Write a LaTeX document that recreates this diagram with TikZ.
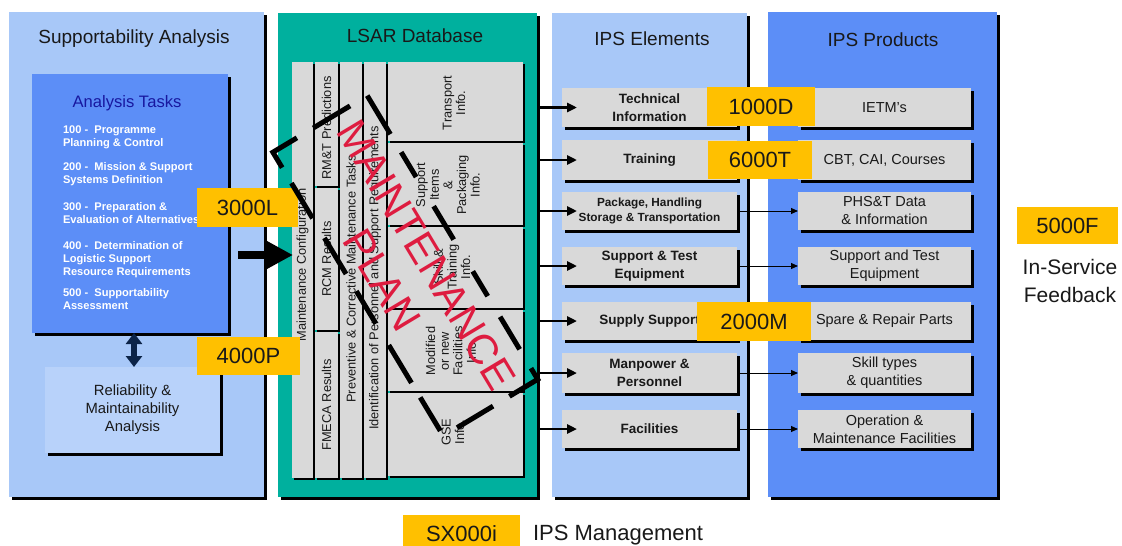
\documentclass[tikz,border=0pt]{standalone}
\usepackage{fontspec}
\setmainfont{Liberation Sans}
\usetikzlibrary{arrows.meta,shadows}
\newcommand{\myfs}[2]{\fontsize{#1}{#2}\selectfont}
\definecolor{panelblue}{RGB}{168,200,248}
\definecolor{midblue}{RGB}{92,142,247}
\definecolor{rmblue}{RGB}{184,210,250}
\definecolor{tealpanel}{RGB}{0,176,158}
\definecolor{cellgrey}{RGB}{217,217,217}
\definecolor{tagyellow}{RGB}{255,192,0}
\definecolor{planred}{RGB}{222,28,64}
\definecolor{taskblue}{RGB}{24,24,160}
\definecolor{navyarrow}{RGB}{12,36,72}
\definecolor{txt}{RGB}{25,25,25}
\begin{document}
\begin{tikzpicture}[x=1pt,y=-1pt,
  every node/.style={inner sep=0pt,outer sep=0pt,text=txt},
  sh/.style={drop shadow={shadow xshift=#1pt,shadow yshift=-#1pt,opacity=1,fill=black}},
  panel/.style={fill=#1,sh=3},
  ptitle/.style={font=\myfs{19}{22}},
  cell/.style={fill=cellgrey,sh=2},
  celltext/.style={rotate=90,align=center,font=\myfs{12.8}{13.6}},
  gbox/.style={fill=cellgrey,sh=3,minimum width=175pt,align=center,font=\myfs{13.5}{18}\bfseries},
  pbox/.style={fill=cellgrey,sh=3,minimum width=173pt,align=center,font=\myfs{14.5}{18}},
  tag/.style={fill=tagyellow,font=\myfs{22}{26}},
  item/.style={anchor=west,text=white,font=\myfs{11.1}{13}\bfseries,text height=8pt,text depth=2.5pt},
  elarr/.style={line width=2.5pt,-{Triangle[length=10pt,width=9pt]}},
  prarr/.style={line width=1pt,-{Triangle[length=7pt,width=6pt]}},
  bigarr/.style={line width=8pt,-{Triangle[length=26pt,width=26pt]}},
  dblarr/.style={navyarrow,line width=6pt,{Triangle[length=11pt,width=16pt]}-{Triangle[length=11pt,width=16pt]}},
  planframe/.style={line width=5pt,line join=miter},
  plantext/.style={rotate=-59,text=planred,font=\myfs{42}{50}}
]
\useasboundingbox (0,0) rectangle (1122,546);
\fill[white] (0,0) rectangle (1122,546);

% ---------- panels
\node[panel=panelblue,minimum width=255pt,minimum height=485pt] (sa) at (136.5,254.5) {};
\node[panel=tealpanel,minimum width=259pt,minimum height=484pt] (lsar) at (407.5,255) {};
\node[panel=panelblue,minimum width=195pt,minimum height=484pt] (ipse) at (649.5,255) {};
\node[panel=midblue,minimum width=229pt,minimum height=485pt] (ipsp) at (882.5,254.5) {};

\node[ptitle] (saT) at (134,39) {Supportability Analysis};
\node[ptitle] (lsarT) at (415,35.5) {LSAR Database};
\node[ptitle] (ipseT) at (652,38.5) {IPS Elements};
\node[ptitle] (ipspT) at (883,40) {IPS Products};

% ---------- supportability analysis
\node[fill=midblue,sh=3,minimum width=196pt,minimum height=259pt] (tasks) at (130,203.5) {};
\node[font=\myfs{16.6}{20},text=taskblue] (tasksT) at (127,103) {Analysis Tasks};
\foreach \yy/\ttx [count=\k] in {131/{100 -\ \ Programme},144/{Planning \& Control},
  168/{200 -\ \ Mission \& Support},181/{Systems Definition},
  208/{300 -\ \ Preparation \&},221/{Evaluation of Alternatives},
  247/{400 -\ \ Determination of},260/{Logistic Support},273/{Resource Requirements},
  294/{500 -\ \ Supportability},307/{Assessment}}
  \node[item] (it\k) at (63,\yy) {\ttx};
\node[fill=rmblue,sh=3,minimum width=175pt,minimum height=86pt,align=center,font=\myfs{14.8}{18}] (rm) at (132.5,410) {Reliability \&\\Maintainability\\Analysis};
\coordinate (dblx) at (134,0);
\draw[dblarr] (tasks.south -| dblx) -- (rm.north -| dblx);

% ---------- LSAR table
\node[cell,minimum width=21pt,minimum height=416pt] (c1) at (302.5,270) {};
\node[cell,minimum width=23pt,minimum height=124pt] (c2a) at (326.5,124) {};
\node[cell,minimum width=23pt,minimum height=142pt] (c2b) at (326.5,259) {};
\node[cell,minimum width=23pt,minimum height=146pt] (c2c) at (326.5,405) {};
\node[cell,minimum width=22pt,minimum height=416pt] (c3) at (351,270) {};
\node[cell,minimum width=22pt,minimum height=416pt] (c4) at (375,270) {};
\node[cell,minimum width=135pt,minimum height=79pt] (r1) at (455.5,101.5) {};
\node[cell,minimum width=135pt,minimum height=82pt] (r2) at (455.5,184) {};
\node[cell,minimum width=135pt,minimum height=81pt] (r3) at (455.5,267.5) {};
\node[cell,minimum width=135pt,minimum height=81pt] (r4) at (455.5,350.5) {};
\node[cell,minimum width=135pt,minimum height=83pt] (r5) at (455.5,434.5) {};

\node[celltext] (c1t) at (302.5,265) {Maintenance Configuration};
\node[celltext] (c2at) at (326.5,128) {RM\&T Predictions};
\node[celltext] (c2bt) at (326.5,259) {RCM Results};
\node[celltext] (c2ct) at (326.5,405) {FMECA Results};
\node[celltext] (c3t) at (351,279) {Preventive \& Corrective Maintenance Tasks};
\node[celltext] (c4t) at (375,278) {Identification of Personnel and Support Requirements};
\node[celltext] (r1t) at (454,103) {Transport\\Info.};
\node[celltext] (r2t) at (448,185) {Support\\Items\\\&\\Packaging\\Info.};
\node[celltext] (r3t) at (452,267) {Skill \&\\Training\\Info.};
\node[celltext] (r4t) at (451,351) {Modified\\or new\\Facilities\\Info.};
\node[celltext] (r5t) at (453,432) {GSE\\Info.};

% ---------- IPS elements
\node[gbox,minimum height=39pt] (e1) at (649.5,107.5) {Technical\\Information};
\node[gbox,minimum height=40pt] (e2) at (649.5,160) {Training};
\node[gbox,minimum height=38pt,font=\myfs{11.8}{15}\bfseries] (e3) at (649.5,211) {Package, Handling\\Storage \& Transportation};
\node[gbox,minimum height=38pt] (e4) at (649.5,266) {Support \& Test\\Equipment};
\node[gbox,minimum height=38pt] (e5) at (649.5,321) {Supply Support};
\node[gbox,minimum height=40pt] (e6) at (649.5,373) {Manpower \&\\Personnel};
\node[gbox,minimum height=38pt] (e7) at (649.5,429) {Facilities};

% ---------- IPS products
\node[pbox,minimum height=39pt] (p1) at (884.5,107.5) {IETM’s};
\node[pbox,minimum height=40pt] (p2) at (884.5,160) {CBT, CAI, Courses};
\node[pbox,minimum height=38pt] (p3) at (884.5,211) {PHS\&T Data\\\& Information};
\node[pbox,minimum height=38pt] (p4) at (884.5,266) {Support and Test\\Equipment};
\node[pbox,minimum height=38pt] (p5) at (884.5,321) {Spare \& Repair Parts};
\node[pbox,minimum height=40pt] (p6) at (884.5,373) {Skill types\\\& quantities};
\node[pbox,minimum height=38pt] (p7) at (884.5,429) {Operation \&\\Maintenance Facilities};

% ---------- connectors
\foreach \i in {1,...,7}
  \draw[elarr] (lsar.east |- e\i.west) -- ([xshift=15pt]e\i.west);
\foreach \i in {3,4,6,7}
  \draw[prarr] (e\i.east) -- (p\i.west);
\coordinate (bigA) at (238,255);
\coordinate (bigB) at (293,255);
\draw[bigarr] (bigA) -- (bigB);

% ---------- tags
\node[tag,minimum width=101pt,minimum height=39pt] (t3000) at (247.5,207.5) {3000L};
\node[tag,minimum width=103pt,minimum height=38pt] (t4000) at (248.5,356) {4000P};
\node[tag,minimum width=108pt,minimum height=39pt] (t1000) at (761,106.5) {1000D};
\node[tag,minimum width=104pt,minimum height=38pt] (t6000) at (760,160) {6000T};
\node[tag,minimum width=114pt,minimum height=39pt] (t2000) at (754,321.5) {2000M};
\node[tag,minimum width=101pt,minimum height=37pt] (t5000) at (1067.5,225.5) {5000F};
\node[tag,minimum width=117pt,minimum height=38pt] (tsx) at (461.5,534) {SX000i};
\node[anchor=west,font=\myfs{22}{26}] (ipsm) at (533,535) {IPS Management};
\node[align=center,font=\myfs{21}{28}] (isf) at (1070,281) {In-Service\\Feedback};

% ---------- maintenance plan overlay
\begin{scope}[shift={(422,247)},rotate=-59]
\draw[planframe] (-158,-31)--(-113,-31) (-92,-31)--(-63,-31) (-29,-31)--(10,-31)
  (47,-31)--(76,-31) (100,-31)--(138,-31) (160,-31)--(173,-31)--(173,2)
  (173,21)--(173,63)
  (-158,51)--(-158,79)--(-140,79) (-122,79)--(-81,79) (-58,79)--(-16,79)
  (4,79)--(42,79) (67,79)--(111,79) (128,79)--(167,79)
  (-158,32)--(-158,-11);
\node[plantext] (mt) at (9,0) {MAINTENANCE};
\node[plantext] (pl) at (8,51) {PLAN};
\end{scope}
\end{tikzpicture}
\end{document}
